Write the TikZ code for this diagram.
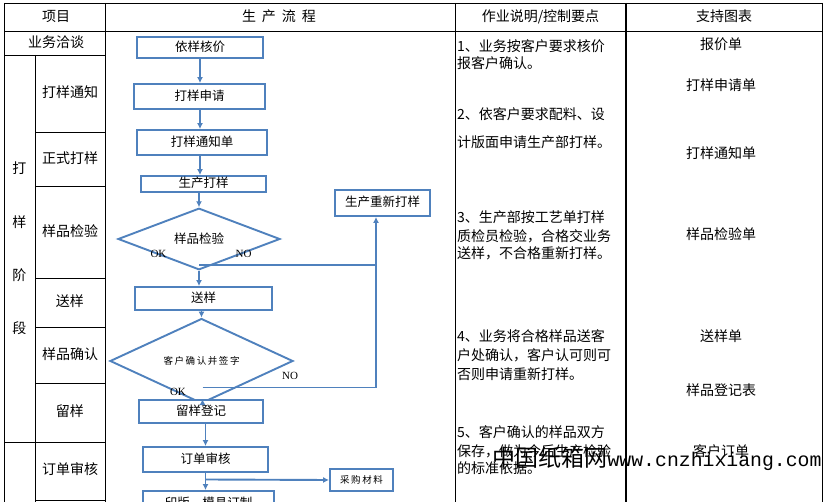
\documentclass[tikz,border=0pt]{standalone}
\usepackage{tikz}
\usepackage{xcolor}
\usepackage{fontspec}
\setmainfont{Noto Sans CJK SC}
\newfontfamily\okfont{Liberation Serif}
\newfontfamily\urlfont{Liberation Mono}
\usetikzlibrary{positioning}
\usetikzlibrary{arrows.meta}
\usetikzlibrary{shapes.geometric}

\begin{document}
\begin{tikzpicture}[x=1pt, y=-1pt,
	gridline/.style={draw=black, line width=0.9pt},
	celltext/.style={inner sep=0pt, font=\fontsize{14}{14}\selectfont, text height=11pt, text depth=2.5pt},
	notetext/.style={celltext, anchor=west},
	flowbox/.style={draw=BLUE, line width=1.9pt, fill=white, inner sep=0pt, font=\fontsize{12.5}{12.5}\selectfont, text height=9.5pt, text depth=2pt},
	smallbox/.style={flowbox, font=\fontsize{9.5}{9.5}\selectfont, text height=8pt, text depth=1.5pt},
	flowdiam/.style={diamond, draw=BLUE, line width=1.9pt, fill=white, inner sep=0pt, font=\fontsize{12.5}{12.5}\selectfont},
	flowline/.style={draw=BLUE, line width=1.9pt},
	flowarrow/.style={flowline, -{Latex[length=6pt, width=6pt]}},
	oklabel/.style={inner sep=0pt, font=\okfont\fontsize{11}{11}\selectfont}]
			\definecolor{BLUE}{RGB}{79, 129, 189}
			\useasboundingbox (0.0, 0.0) rectangle (828.0, 502.0);
			\clip (0.0, 0.0) rectangle (828.0, 502.0);
			% table
			\draw[gridline] (4.0, 3.0) -- (822.0, 3.0);
			\draw[gridline] (4.0, 31.0) -- (822.0, 31.0);
			\draw[gridline] (4.0, 55.0) -- (105.0, 55.0);
			\draw[gridline] (35.0, 132.0) -- (105.0, 132.0);
			\draw[gridline] (35.0, 186.0) -- (105.0, 186.0);
			\draw[gridline] (35.0, 278.0) -- (105.0, 278.0);
			\draw[gridline] (35.0, 327.0) -- (105.0, 327.0);
			\draw[gridline] (35.0, 383.0) -- (105.0, 383.0);
			\draw[gridline] (4.0, 442.0) -- (105.0, 442.0);
			\draw[gridline] (35.0, 500.0) -- (105.0, 500.0);
			\draw[gridline] (4.0, 3.0) -- (4.0, 502.0);
			\draw[gridline] (35.0, 55.0) -- (35.0, 502.0);
			\draw[gridline] (105.0, 3.0) -- (105.0, 502.0);
			\draw[gridline] (455.5, 3.0) -- (455.5, 502.0);
			\draw[gridline, line width=1.6pt] (626.0, 3.0) -- (626.0, 502.0);
			\draw[gridline] (822.0, 3.0) -- (822.0, 502.0);
			% headers
			\node[celltext] (hxm) at (56.0, 17.0) {项目};
			\node[celltext] (hlc) at (279.0, 17.0) {生\hspace{6pt}产\hspace{6pt}流\hspace{6pt}程};
			\node[celltext] (hzy) at (540.5, 17.0) {作业说明/控制要点};
			\node[celltext] (htb) at (724.0, 17.0) {支持图表};
			% stages
			\node[celltext] (ywqt) at (56.0, 43.0) {业务洽谈};
			\node[celltext] (jd1) at (19.5, 169.0) {打};
			\node[celltext] (jd2) at (19.5, 223.0) {样};
			\node[celltext] (jd3) at (19.5, 276.0) {阶};
			\node[celltext] (jd4) at (19.5, 329.0) {段};
			\node[celltext] (xdytz) at (70.0, 93.0) {打样通知};
			\node[celltext] (xzsdy) at (70.0, 159.0) {正式打样};
			\node[celltext] (xypjy) at (70.0, 232.0) {样品检验};
			\node[celltext] (xsy) at (70.0, 302.0) {送样};
			\node[celltext] (xypqr) at (70.0, 355.0) {样品确认};
			\node[celltext] (xly) at (70.0, 412.0) {留样};
			\node[celltext] (xddsh) at (70.0, 470.0) {订单审核};
			% notes
			\node[notetext] (zy1a) at (457.0, 47.0) {1、业务按客户要求核价};
			\node[notetext] (zy1b) at (457.0, 64.0) {报客户确认。};
			\node[notetext] (zy2a) at (457.0, 115.0) {2、依客户要求配料、设};
			\node[notetext] (zy2b) at (457.0, 143.0) {计版面申请生产部打样。};
			\node[notetext] (zy3a) at (457.0, 218.0) {3、生产部按工艺单打样};
			\node[notetext] (zy3b) at (457.0, 237.0) {质检员检验，合格交业务};
			\node[notetext] (zy3c) at (457.0, 254.0) {送样，不合格重新打样。};
			\node[notetext] (zy4a) at (457.0, 337.0) {4、业务将合格样品送客};
			\node[notetext] (zy4b) at (457.0, 356.0) {户处确认，客户认可则可};
			\node[notetext] (zy4c) at (457.0, 375.0) {否则申请重新打样。};
			\node[notetext] (zy5a) at (457.0, 433.0) {5、客户确认的样品双方};
			\node[notetext] (zy5b) at (457.0, 452.0) {保存，做为今后生产检验};
			\node[notetext] (zy5c) at (457.0, 469.0) {的标准依据。};
			% forms
			\node[celltext] (bjd) at (721.0, 45.0) {报价单};
			\node[celltext] (dysqd) at (721.0, 86.0) {打样申请单};
			\node[celltext] (dytzd) at (721.0, 154.0) {打样通知单};
			\node[celltext] (ypjyd) at (721.0, 235.0) {样品检验单};
			\node[celltext] (syd) at (721.0, 337.0) {送样单};
			\node[celltext] (ypdjb) at (721.0, 391.0) {样品登记表};
			\node[celltext] (khdd) at (721.0, 452.0) {客户订单};
			% flow
			\node[flowbox, minimum width=126pt, minimum height=21pt] (yyhj) at (200.0, 47.5) {依样核价};
			\node[flowbox, minimum width=131pt, minimum height=25pt] (dysq) at (199.5, 96.5) {打样申请};
			\node[flowbox, minimum width=130pt, minimum height=25pt] (dytz) at (202.0, 142.5) {打样通知单};
			\node[flowbox, minimum width=125pt, minimum height=16pt] (scdy) at (203.5, 184.0) {生产打样};
			\node[flowbox, minimum width=95pt, minimum height=26pt] (cxdy) at (382.5, 203.0) {生产重新打样};
			\node[flowdiam, minimum width=162pt, minimum height=34pt] (ypjy) at (199.0, 239.0) {样品检验};
			\node[flowbox, minimum width=137pt, minimum height=23pt] (songy) at (203.5, 298.5) {送样};
			\node[flowdiam, minimum width=183pt, minimum height=44pt, font=\fontsize{9.5}{9.5}\selectfont] (khqr) at (201.5, 361.0) {客\,户\,确\,认\,并\,签\,字};
			\node[flowbox, minimum width=124pt, minimum height=23pt] (lydj) at (201.0, 411.5) {留样登记};
			\node[flowbox, minimum width=125pt, minimum height=25pt] (ddsh) at (205.5, 459.5) {订单审核};
			\node[smallbox, minimum width=63pt, minimum height=22pt] (cgcl) at (361.5, 480.0) {采\,购\,材\,料};
			\node[flowbox, minimum width=131pt, minimum height=25pt] (ybmj) at (208.5, 503.5) {印版、模具订制};
			\node[oklabel] (ok1) at (158.5, 253.5) {OK};
			\node[oklabel] (no1) at (243.5, 253.5) {NO};
			\node[oklabel] (no2) at (290.0, 375.5) {NO};
			\node[oklabel] (ok2) at (178.0, 392.0) {OK};
			\coordinate (nobrA) at (199.0, 265.0);
			\coordinate (nocnA) at (376.0, 265.0);
			\coordinate (nobrB) at (202.5, 387.5);
			\coordinate (nocnB) at (376.0, 387.5);
			\coordinate (cgbr) at (205.5, 479.5);
			\draw[flowarrow] (yyhj.south) -- (yyhj.south |- dysq.north);
			\draw[flowarrow] (dysq.south -| yyhj.south) -- (yyhj.south |- dytz.north);
			\draw[flowarrow] (dytz.south -| yyhj.south) -- (yyhj.south |- scdy.north);
			\draw[flowarrow] (scdy.south -| ypjy.north) -- (ypjy.north);
			\draw[flowarrow] (ypjy.south) -- (ypjy.south |- songy.north);
			\draw[flowline] (nobrA) -- (nocnA);
			\draw[flowarrow] (songy.south -| khqr.north) -- (khqr.north);
			\draw[flowarrow] (khqr.south -| nobrB) -- (nobrB |- lydj.north);
			\draw[flowarrow] (nobrB) -- (nocnB) -- (nocnB |- cxdy.south);
			\draw[flowarrow] (lydj.south -| cgbr) -- (cgbr |- ddsh.north);
			\draw[flowarrow] (ddsh.south -| cgbr) -- (cgbr |- ybmj.north);
			\draw[flowarrow] (cgbr) -- (cgcl.west);
			% watermark
			\node[inner sep=0pt, anchor=west, font=\fontsize{23}{23}\selectfont] (wmcn) at (492.0, 458.0) {中国纸箱网};
			\node[inner sep=0pt, anchor=base west, font=\urlfont\fontsize{19.8}{19.8}\selectfont] (wmurl) at (wmcn.base east) {www.cnzhixiang.com};
		\end{tikzpicture}
\end{document}
